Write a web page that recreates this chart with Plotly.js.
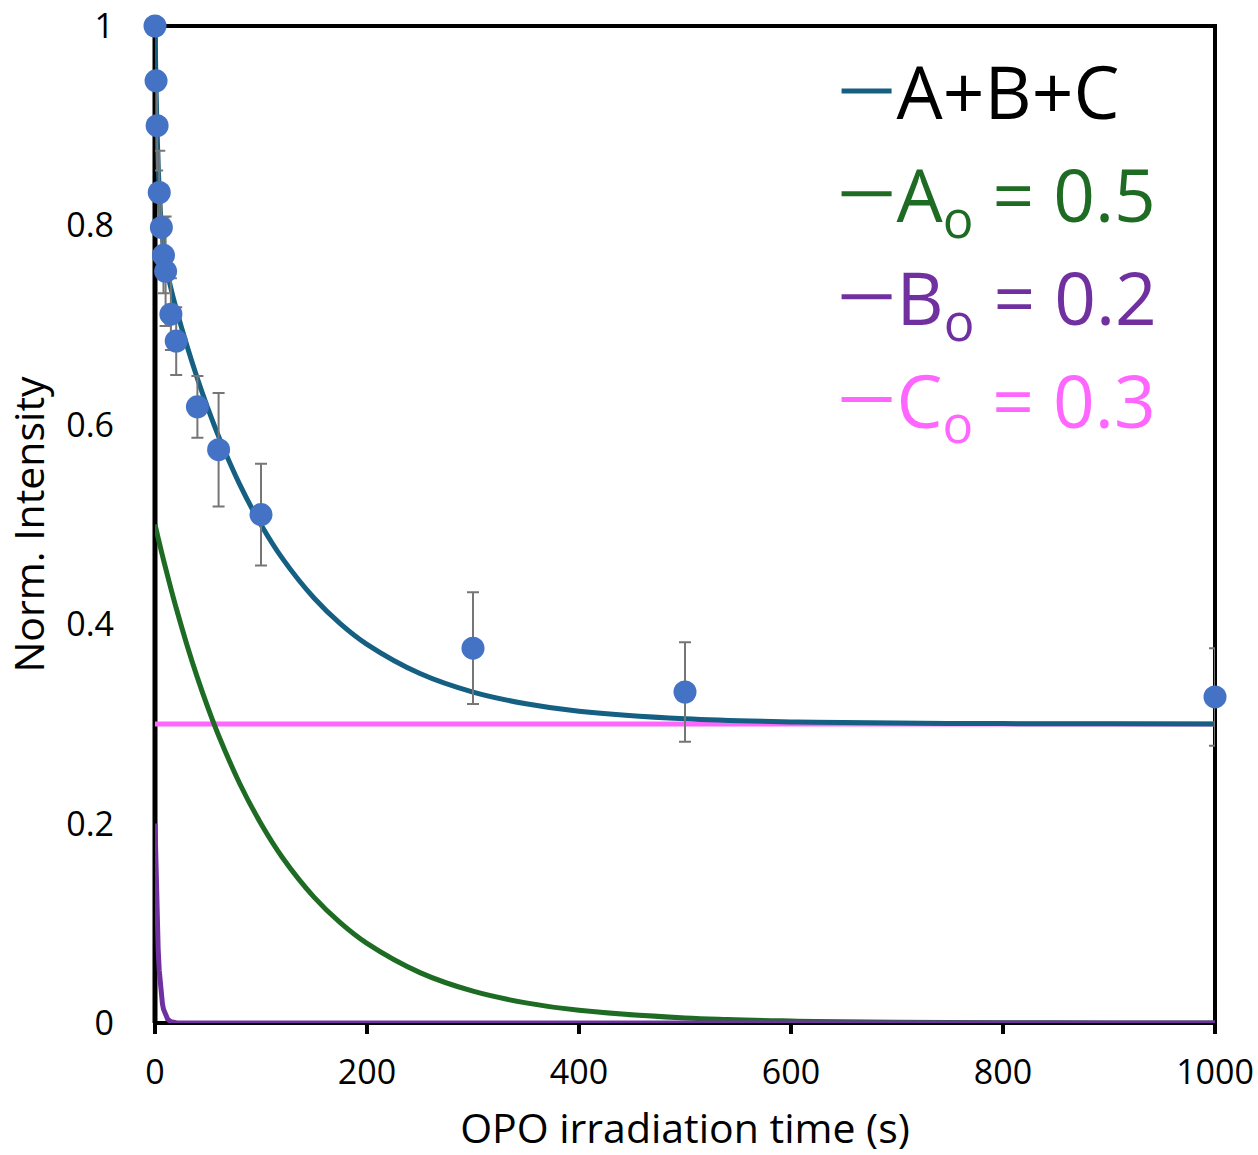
<!DOCTYPE html>
<html>
<head>
<meta charset="utf-8">
<script src="https://cdn.plot.ly/plotly-3.0.1.min.js"></script>
<style>html,body{margin:0;padding:0;background:#fff;}#chart{width:1258px;height:1155px;}</style>
</head>
<body>
<div id="chart"></div>
<script>
// Measured data points (time in s, normalized intensity, error)
var ptT   = [0, 1, 2, 4, 6, 8, 10, 15, 20, 40, 60, 100, 300, 500, 1000];
var ptV   = [1.000, 0.945, 0.900, 0.833, 0.798, 0.770, 0.754, 0.711, 0.684, 0.618, 0.575, 0.510, 0.376, 0.332, 0.327];
var ptErr = [0, 0, 0.045, 0.042, 0.030, 0.038, 0.055, 0.036, 0.034, 0.031, 0.057, 0.051, 0.056, 0.050, 0.049];

// Fitted curves
var fitT = [0, 0.5, 1, 1.5, 2, 3, 4, 5, 6, 8, 10, 12, 15, 20, 30, 40, 50, 60, 80, 100, 120, 150, 175, 200, 250, 300, 350, 400, 500, 600, 700, 800, 900, 1000];
var sumABC = [1.0000, 0.9670, 0.9387, 0.9145, 0.8936, 0.8600, 0.8347, 0.8154, 0.8003, 0.7785, 0.7633, 0.7516, 0.7370, 0.7165, 0.6797, 0.6464, 0.6161, 0.5884, 0.5400, 0.4998, 0.4663, 0.4263, 0.4004, 0.3798, 0.3505, 0.3319, 0.3202, 0.3127, 0.3051, 0.3020, 0.3008, 0.3003, 0.3001, 0.3000];
var compA = [0.5000, 0.4977, 0.4954, 0.4932, 0.4909, 0.4864, 0.4820, 0.4776, 0.4732, 0.4646, 0.4562, 0.4479, 0.4357, 0.4162, 0.3797, 0.3464, 0.3161, 0.2884, 0.2400, 0.1998, 0.1663, 0.1263, 0.1004, 0.0798, 0.0505, 0.0319, 0.0202, 0.0127, 0.0051, 0.0020, 0.0008, 0.0003, 0.0001, 0.0000];
var bT = [0, 0.5, 1, 1.5, 2, 3, 4, 5, 6, 7, 8, 10, 12, 15, 20, 30, 1000];
var compB = [0.2000, 0.1693, 0.1433, 0.1213, 0.1027, 0.0736, 0.0527, 0.0378, 0.0271, 0.0194, 0.0139, 0.0071, 0.0037, 0.0013, 0.0003, 0.0000, 0.0000];
var cT = [0, 1000];
var compC = [0.3, 0.3];

var legendNames = [
  'A+B+C',
  '<span style="color:#1e6b24">A<sub>o</sub> = 0.5</span>',
  '<span style="color:#7030a0">B<sub>o</sub> = 0.2</span>',
  '<span style="color:#ff66ff">C<sub>o</sub> = 0.3</span>'
];
var xTicks = [0, 200, 400, 600, 800, 1000];
var yTicks = [0, 0.2, 0.4, 0.6, 0.8, 1];

var FONT = 'Open Sans, sans-serif';

var traces = [
  {x: cT, y: compC, mode: 'lines', name: legendNames[3], legendrank: 4, legendgroup: 'c',
   line: {color: '#ff66ff', width: 5}},
  {x: fitT, y: compA, mode: 'lines', name: legendNames[1], legendrank: 2, legendgroup: 'a',
   line: {color: '#1e6b24', width: 5, shape: 'spline'}},
  {x: bT, y: compB, mode: 'lines', name: legendNames[2], legendrank: 3, legendgroup: 'b',
   line: {color: '#7030a0', width: 5}},
  {x: fitT, y: sumABC, mode: 'lines', name: legendNames[0], legendrank: 1, legendgroup: 'abc',
   line: {color: '#156082', width: 5, shape: 'spline'}},
  {x: ptT, y: ptV, mode: 'markers', showlegend: false, cliponaxis: false,
   marker: {color: '#4472c4', size: 23},
   error_y: {type: 'data', array: ptErr, visible: true, color: '#767676', thickness: 2, width: 6}}
];

var layout = {
  width: 1258, height: 1155,
  margin: {l: 155, r: 43, t: 26, b: 132},
  paper_bgcolor: '#ffffff', plot_bgcolor: '#ffffff',
  font: {family: FONT, color: '#000000', size: 34},
  showlegend: true,
  legend: {
    x: 0.643, y: 0.989, xanchor: 'left', yanchor: 'top',
    bgcolor: 'rgba(0,0,0,0)', borderwidth: 0,
    font: {family: FONT, size: 73, color: '#000000'},
    itemwidth: 50, traceorder: 'grouped', tracegroupgap: 5
  },
  xaxis: {
    range: [0, 1000], tickvals: xTicks, ticktext: xTicks.map(String),
    ticks: 'outside', ticklen: 10, tickwidth: 4, tickcolor: '#000000',
    showgrid: false, zeroline: false, showline: false,
    ticklabelstandoff: 9,
    tickfont: {family: FONT, size: 34, color: '#000000'},
    title: {text: 'OPO irradiation time (s)', font: {family: FONT, size: 41, color: '#000000'}, standoff: 31}
  },
  yaxis: {
    range: [0, 1], tickvals: yTicks, ticktext: ['0', '0.2', '0.4', '0.6', '0.8', '1'],
    ticks: '', showgrid: false, zeroline: false, showline: false,
    ticklabelstandoff: 40,
    tickfont: {family: FONT, size: 34, color: '#000000'},
    title: {text: 'Norm. Intensity', font: {family: FONT, size: 41, color: '#000000'}, standoff: 20}
  },
  shapes: [
    {type: 'rect', xref: 'paper', yref: 'paper', x0: 0, x1: 1, y0: 0, y1: 1,
     line: {color: '#000000', width: 4}, layer: 'below'},
    {type: 'line', xref: 'paper', yref: 'paper', x0: 0, x1: 0, y0: 0, y1: 1,
     line: {color: '#000000', width: 5}, layer: 'below'}
  ]
};

Plotly.newPlot('chart', traces, layout, {staticPlot: true, displayModeBar: false});
</script>
</body>
</html>
